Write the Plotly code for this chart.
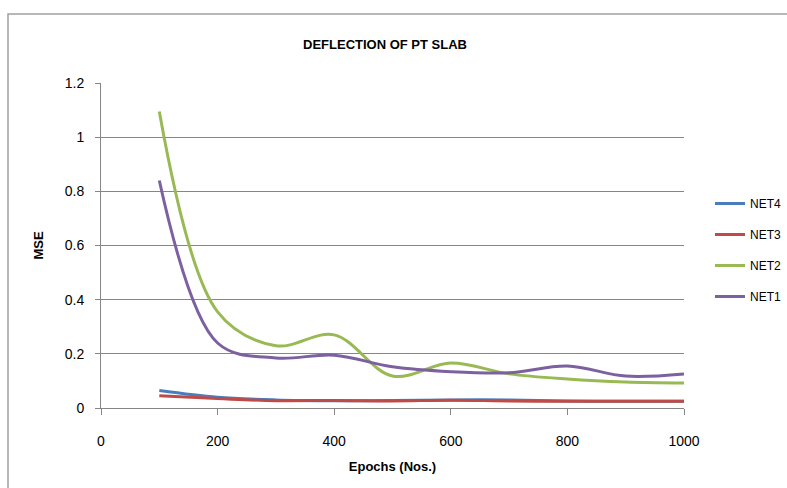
import plotly.graph_objects as go

epochs = [100, 200, 300, 400, 500, 600, 700, 800, 900, 1000]
net4 = [0.065, 0.040, 0.030, 0.027, 0.028, 0.030, 0.030, 0.026, 0.025, 0.025]
net3 = [0.045, 0.035, 0.027, 0.028, 0.026, 0.029, 0.026, 0.025, 0.025, 0.025]
net2 = [1.095, 0.355, 0.230, 0.270, 0.118, 0.166, 0.126, 0.107, 0.096, 0.092]
net1 = [0.840, 0.240, 0.185, 0.195, 0.152, 0.134, 0.130, 0.155, 0.118, 0.126]

names = ["NET4", "NET3", "NET2", "NET1"]
series = [net4, net3, net2, net1]
colors = ["#4A7EBB", "#BE4B48", "#98B954", "#7D60A0"]

FONT = "Liberation Sans, Arial, sans-serif"

fig = go.Figure()
for n, s, c in zip(names, series, colors):
    fig.add_trace(go.Scatter(x=epochs, y=s, name=n, mode="lines",
                             line=dict(color=c, width=3, shape="spline", smoothing=1.0),
                             legendgroup=n))

W, H = 787, 488
L, R, T, B = 101, 103, 83, 80
pw, ph = W - L - R, H - T - B

def px2paper_x(px):
    return (px - L) / pw

def py2paper_y(py):
    return (H - B - py) / ph

fig.update_layout(
    width=W, height=H,
    margin=dict(l=L, r=R, t=T, b=B, autoexpand=False),
    paper_bgcolor="white", plot_bgcolor="white",
    font=dict(family=FONT, size=14, color="#000000"),
    title=dict(text="<b>DEFLECTION OF PT SLAB</b>", x=px2paper_x(385), xref="paper",
               xanchor="center", y=1 - 44 / H, yanchor="middle",
               font=dict(size=13, family=FONT)),
    showlegend=True,
    legend=dict(x=px2paper_x(710), y=py2paper_y(189), xanchor="left", yanchor="top",
                traceorder="grouped", tracegroupgap=12, font=dict(size=12, family=FONT),
                itemwidth=30, bgcolor="rgba(0,0,0,0)", borderwidth=0),
    xaxis=dict(range=[0, 1000], dtick=200, tick0=0, showgrid=False,
               showline=True, linecolor="#868686", linewidth=1,
               ticks="outside", ticklen=6, tickcolor="#868686",
               ticklabelstandoff=14,
               title=dict(text="<b>Epochs (Nos.)</b>", standoff=14, font=dict(size=13)),
               zeroline=False, tickfont=dict(size=14)),
    yaxis=dict(range=[0, 1.2], dtick=0.2, tick0=0, showgrid=True, gridcolor="#868686",
               gridwidth=1, showline=True, linecolor="#868686", linewidth=1,
               ticks="outside", ticklen=5, tickcolor="#868686",
               ticklabelstandoff=8,
               title=dict(text="<b>MSE</b>", standoff=18, font=dict(size=13)),
               zeroline=False, tickfont=dict(size=14)),
    shapes=[dict(type="rect", xref="paper", yref="paper",
                 x0=px2paper_x(8), x1=px2paper_x(800), y0=py2paper_y(520), y1=py2paper_y(14),
                 line=dict(color="#A0A0A0", width=1.5), fillcolor="rgba(0,0,0,0)", layer="below")],
)

fig.write_html("out.html")
